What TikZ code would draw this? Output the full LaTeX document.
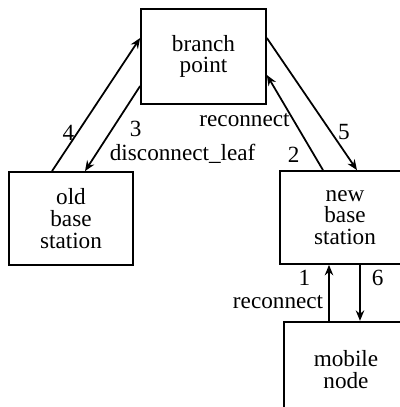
\documentclass[tikz,border=0pt]{standalone}
\usepackage{fontspec}
\setmainfont{Liberation Serif}
\usetikzlibrary{arrows.meta, positioning}

\begin{document}
\begin{tikzpicture}[
    x=0.02cm, y=-0.02cm,
    font=\fontsize{13.2}{12.4}\selectfont,
    >={Stealth[length=2.1mm, width=1.7mm, inset=0.7mm]},
    box/.style={rectangle, draw=black, line width=1pt, align=center, inner sep=0pt, minimum width=2.5cm, minimum height=1.9cm},
    line/.style={draw, ->, line width=1pt},
    lbl/.style={inner sep=0pt}
]
\useasboundingbox (0,0) rectangle (400,407);
\clip (0,0) rectangle (400,407);

% Nodes
\node[box] (bp) at (203.5,56.5) {branch\\point};
\node[box, minimum width=2.48cm, minimum height=1.86cm, text depth=-0.15cm] (old) at (71,218.5) {old\\base\\station};
\node[box, minimum width=2.6cm, minimum height=1.86cm, text depth=-0.15cm] (new) at (345,217.5) {new\\base\\station};
\node[box, minimum width=2.48cm, below=1.12cm of new, xshift=0.02cm] (mobile) {mobile\\node};

% Edges to and from the branch point
\draw[line] ([xshift=-0.38cm]old.north) -- ([yshift=0.37cm]bp.west)
    node[lbl, pos=0.29, anchor=east, xshift=-0.05cm] {4};
\draw[line] ([yshift=-0.59cm]bp.west) -- ([xshift=0.28cm]old.north)
    node[lbl, pos=0.51, anchor=west, xshift=0.34cm] {3}
    node[lbl, pos=0.8, anchor=west, xshift=0.26cm] {disconnect\_leaf};
\draw[line] ([xshift=-0.44cm]new.north) -- ([yshift=-0.37cm]bp.east)
    node[lbl, pos=0.165, anchor=east, xshift=-0.27cm] {2}
    node[lbl, pos=0.526, anchor=east, xshift=-0.06cm] {reconnect};
\draw[line] ([yshift=0.37cm]bp.east) -- ([xshift=0.24cm]new.north)
    node[lbl, pos=0.71, anchor=west, xshift=0.13cm] {5};

% Edges between mobile node and new base station
\draw[line] ([xshift=-0.34cm]mobile.north) -- ([xshift=-0.34cm]mobile.north |- new.south)
    node[lbl, pos=0.76, anchor=east, xshift=-0.36cm] {1}
    node[lbl, pos=0.33, anchor=east, xshift=-0.1cm] {reconnect};
\draw[line] ([xshift=0.3cm]new.south) -- ([xshift=0.3cm]new.south |- mobile.north)
    node[lbl, pos=0.24, anchor=west, xshift=0.22cm] {6};

\end{tikzpicture}
\end{document}
